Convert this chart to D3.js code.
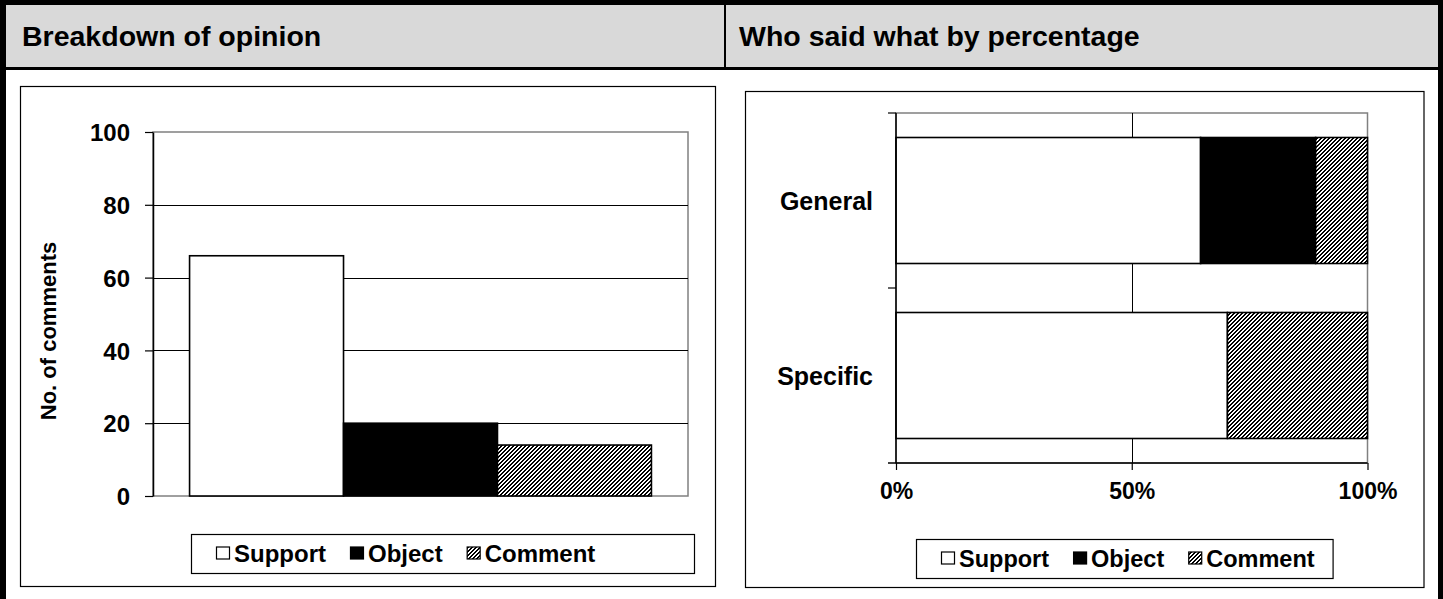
<!DOCTYPE html>
<html><head><meta charset="utf-8">
<script src="https://cdn.jsdelivr.net/npm/d3@7"></script>
<style>
body{margin:0;background:#fff;}
svg text{font-family:"Liberation Sans",Arial,Helvetica,sans-serif;font-weight:bold;fill:#000;}
</style>
</head><body>
<svg id="c" width="1443" height="599"></svg>
<script>
// ---- data ----
const headerTitles = ["Breakdown of opinion", "Who said what by percentage"];
const opinionCategories = ["Support", "Object", "Comment"];
const opinionCounts = [66, 20, 14];
const countTicks = [0, 20, 40, 60, 80, 100];
const countAxisTitle = "No. of comments";
const groupCategories = ["General", "Specific"];
const supportPct = [64.6, 70.3];
const objectPct = [24.4, 0];
const commentPct = [11.0, 29.7];
const pctTicks = [0, 50, 100];

const svg = d3.select("#c");
const fills = {Support: "#fff", Object: "#000", Comment: "url(#hatch)"};

// hatch pattern: pixel-aligned "/" diagonal lines
const defs = svg.append("defs");
const pat = defs.append("pattern").attr("id", "hatch").attr("patternUnits", "userSpaceOnUse")
  .attr("width", 4).attr("height", 4);
pat.append("rect").attr("width", 4).attr("height", 4).attr("fill", "#fff");
[[0, 2, 2], [1, 1, 2], [2, 0, 2], [3, 3, 1], [3, 0, 1]].forEach(([r, c, w]) => {
  pat.append("rect").attr("x", c).attr("y", r).attr("width", w).attr("height", 1)
    .attr("fill", "#000").attr("shape-rendering", "crispEdges");
});

// ---- frame ----
svg.append("rect").attr("x", 5).attr("y", 5).attr("width", 1433).attr("height", 62).attr("fill", "#d9d9d9");
svg.append("rect").attr("x", 0).attr("y", 0).attr("width", 1443).attr("height", 5).attr("fill", "#000");
svg.append("rect").attr("x", 0).attr("y", 0).attr("width", 6).attr("height", 599).attr("fill", "#000");
svg.append("rect").attr("x", 1438).attr("y", 0).attr("width", 5).attr("height", 599).attr("fill", "#000");
svg.append("rect").attr("x", 0).attr("y", 67).attr("width", 1443).attr("height", 3).attr("fill", "#000");
svg.append("rect").attr("x", 724).attr("y", 5).attr("width", 2).attr("height", 62).attr("fill", "#000");

svg.selectAll("text.hdr").data(headerTitles).join("text").attr("class", "hdr")
  .attr("x", (d, i) => i === 0 ? 22 : 739).attr("y", 46)
  .style("font-size", "28.5px").text(d => d);

// chart boxes
svg.append("rect").attr("x", 20.5).attr("y", 86.5).attr("width", 695).attr("height", 500)
  .attr("fill", "none").attr("stroke", "#000").attr("stroke-width", 1.2);
svg.append("rect").attr("x", 745.5).attr("y", 91.5).attr("width", 678.5).attr("height", 496)
  .attr("fill", "none").attr("stroke", "#000").attr("stroke-width", 1.2);

// ---- legend helper ----
function legend(x0, y0, h, fontSize, minRight) {
  const g = svg.append("g");
  const box = g.append("rect").attr("x", x0 + 0.5).attr("y", y0 + 0.5).attr("height", h)
    .attr("fill", "#fff").attr("stroke", "#000").attr("stroke-width", 1.2);
  let x = x0 + 25;
  opinionCategories.forEach((name, i) => {
    g.append("rect").attr("x", x + 0.5).attr("y", y0 + h / 2 - 6.5).attr("width", 13).attr("height", 12)
      .attr("fill", fills[name]).attr("stroke", "#000").attr("stroke-width", 1.2);
    x += 18;
    const t = g.append("text").attr("x", x).attr("y", y0 + h / 2).attr("dy", "0.36em")
      .style("font-size", fontSize + "px").text(name);
    x += t.node().getComputedTextLength();
    if (i < opinionCategories.length - 1) x += 24;
  });
  box.attr("width", Math.max(x + 18, minRight) - x0);
}

// ---- left chart ----
const L = {left: 153, right: 688, top: 132, bottom: 496};
const xL = d3.scaleBand().domain(opinionCategories).range([L.left, L.right]).paddingInner(0).paddingOuter(0.2375);
const yL = d3.scaleLinear().domain([0, 100]).range([L.bottom, L.top]);

const gl = svg.append("g");
gl.append("rect").attr("x", L.left).attr("y", L.top).attr("width", L.right - L.left).attr("height", L.bottom - L.top)
  .attr("fill", "#fff").attr("stroke", "#808080").attr("stroke-width", 1.5);
gl.selectAll("line.grid").data(countTicks.filter(d => d > 0 && d < 100)).join("line").attr("class", "grid")
  .attr("x1", L.left).attr("x2", L.right).attr("y1", d => Math.round(yL(d)) + 0.5).attr("y2", d => Math.round(yL(d)) + 0.5)
  .attr("stroke", "#000").attr("stroke-width", 1);
gl.selectAll("rect.bar").data(opinionCategories.map((c, i) => ({c, v: opinionCounts[i]}))).join("rect").attr("class", "bar")
  .attr("x", d => xL(d.c)).attr("width", xL.bandwidth())
  .attr("y", d => yL(d.v)).attr("height", d => yL(0) - yL(d.v))
  .attr("fill", d => fills[d.c]).attr("stroke", "#000").attr("stroke-width", 1.6);
const axL = gl.append("g").attr("transform", `translate(${L.left},0)`)
  .call(d3.axisLeft(yL).tickValues(countTicks).tickSize(8).tickPadding(15).tickSizeOuter(0));
axL.select(".domain").attr("stroke", "#000").attr("stroke-width", 1.5);
axL.selectAll(".tick line").attr("stroke", "#000").attr("stroke-width", 1.2);
axL.selectAll(".tick text").style("font-size", "24px").attr("font-family", null).attr("dy", "0.36em");
gl.append("text").attr("transform", `translate(48,${(L.top + L.bottom) / 2 + 17}) rotate(-90)`)
  .attr("text-anchor", "middle").attr("dy", "0.36em").style("font-size", "22px").text(countAxisTitle);

legend(191, 534, 39, 24, 694);

// ---- right chart ----
const R = {left: 896, right: 1367.5, top: 113, bottom: 463};
const xR = d3.scaleLinear().domain([0, 100]).range([R.left, R.right]);
const yR = d3.scaleBand().domain(groupCategories).range([R.top, R.bottom]).paddingInner(0.28).paddingOuter(0.14);
const rows = groupCategories.map((g, i) => ({group: g, Support: supportPct[i], Object: objectPct[i], Comment: commentPct[i]}));
const stacked = d3.stack().keys(opinionCategories)(rows);

const gr = svg.append("g");
gr.append("rect").attr("x", R.left).attr("y", R.top).attr("width", R.right - R.left).attr("height", R.bottom - R.top)
  .attr("fill", "#fff").attr("stroke", "#808080").attr("stroke-width", 1.5);
gr.selectAll("line.vgrid").data(pctTicks.filter(d => d > 0 && d < 100)).join("line").attr("class", "vgrid")
  .attr("x1", d => Math.round(xR(d)) + 0.5).attr("x2", d => Math.round(xR(d)) + 0.5)
  .attr("y1", R.top).attr("y2", R.bottom).attr("stroke", "#000").attr("stroke-width", 1);
stacked.forEach(layer => {
  gr.selectAll(null).data(layer.filter(d => d[1] - d[0] > 0)).join("rect")
    .attr("x", d => xR(d[0])).attr("width", d => xR(d[1]) - xR(d[0]))
    .attr("y", d => yR(d.data.group)).attr("height", yR.bandwidth())
    .attr("fill", fills[layer.key]).attr("stroke", "#000").attr("stroke-width", 1.6);
});
const axB = gr.append("g").attr("transform", `translate(0,${R.bottom})`)
  .call(d3.axisBottom(xR).tickValues(pctTicks).tickFormat(d => d + "%").tickSize(7).tickPadding(13).tickSizeOuter(0));
axB.select(".domain").remove();
axB.selectAll(".tick line").attr("stroke", "#000").attr("stroke-width", 1.2);
axB.selectAll(".tick text").style("font-size", "23px").attr("font-family", null);
gr.append("line").attr("x1", R.left - 8).attr("x2", R.right).attr("y1", R.bottom).attr("y2", R.bottom)
  .attr("stroke", "#000").attr("stroke-width", 1.5);
gr.append("line").attr("x1", R.left).attr("x2", R.left).attr("y1", R.top).attr("y2", R.bottom)
  .attr("stroke", "#000").attr("stroke-width", 1.5);
const catStep = (yR.range()[1] - yR.range()[0]) / groupCategories.length;
gr.selectAll("line.ytick").data(d3.range(groupCategories.length)).join("line").attr("class", "ytick")
  .attr("x1", R.left - 8).attr("x2", R.left)
  .attr("y1", i => yR.range()[0] + i * catStep).attr("y2", i => yR.range()[0] + i * catStep)
  .attr("stroke", "#000").attr("stroke-width", 1.2);
gr.selectAll("text.cat").data(groupCategories).join("text").attr("class", "cat")
  .attr("x", 873).attr("y", d => yR(d) + yR.bandwidth() / 2).attr("dy", "0.36em")
  .attr("text-anchor", "end").style("font-size", "25px").text(d => d);

legend(916, 539, 39, 23.5, 0);
</script>
</body></html>
